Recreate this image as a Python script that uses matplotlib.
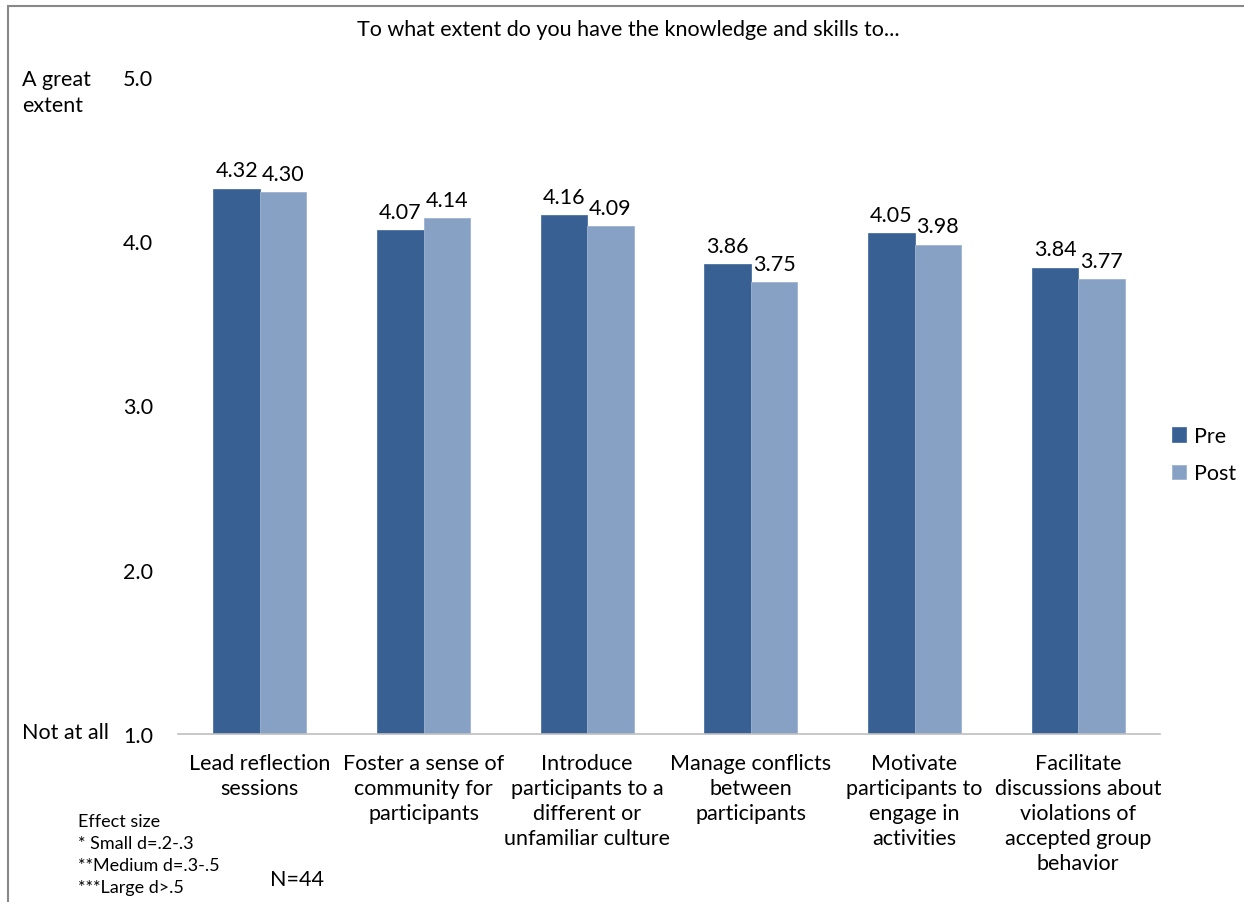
import matplotlib
matplotlib.use("Agg")
import matplotlib.pyplot as plt
import numpy as np
from matplotlib.patches import Rectangle

plt.rcParams["font.family"] = ["Lato", "DejaVu Sans"]

categories = [
    "Lead reflection\nsessions",
    "Foster a sense of\ncommunity for\nparticipants",
    "Introduce\nparticipants to a\ndifferent or\nunfamiliar culture",
    "Manage conflicts\nbetween\nparticipants",
    "Motivate\nparticipants to\nengage in\nactivities",
    "Facilitate\ndiscussions about\nviolations of\naccepted group\nbehavior",
]
pre = [4.32, 4.07, 4.16, 3.86, 4.05, 3.84]
post = [4.30, 4.14, 4.09, 3.75, 3.98, 3.77]
yticks = [1.0, 2.0, 3.0, 4.0, 5.0]

PRE_COLOR = "#386092"
POST_COLOR = "#87a1c5"
FS = 15.5

fig = plt.figure(figsize=(12.44, 9.03), dpi=100)
W, H = 1244, 903
# axes box in pixel terms: x 178..1160, y 78..735 (top-down)
ax = fig.add_axes([178 / W, 1 - 735 / H, (1160 - 178) / W, (735 - 78) / H])

x = np.arange(len(categories))
bw = 0.284
b1 = ax.bar(x - bw / 2, [v - 1 for v in pre], bw, bottom=1, color=PRE_COLOR,
            edgecolor="#4a72a6", lw=0.6, label="Pre")
b2 = ax.bar(x + bw / 2, [v - 1 for v in post], bw, bottom=1, color=POST_COLOR,
            edgecolor="#9db3d2", lw=0.6, label="Post")
for bars, vals in ((b1, pre), (b2, post)):
    for r, v in zip(bars, vals):
        ax.text(r.get_x() + r.get_width() / 2, v + 0.05, f"{v:.2f}",
                ha="center", va="bottom", fontsize=FS)

ax.set_xlim(-0.5, len(categories) - 0.5)
ax.set_ylim(1.0, 5.0)
ax.set_yticks(yticks)
ax.set_yticklabels([f"{t:.1f}" for t in yticks], fontsize=FS)
ax.set_xticks(x)
ax.set_xticklabels(categories, fontsize=FS, linespacing=1.3, va="top")
ax.tick_params(axis="y", length=0, pad=18)
ax.tick_params(axis="x", length=0, pad=14)
for side in ("left", "right", "top"):
    ax.spines[side].set_visible(False)
ax.spines["bottom"].set_color("#bfbfbf")
ax.spines["bottom"].set_linewidth(1.2)

ax.legend(loc="center left", bbox_to_anchor=(0.992, 0.425), frameon=False,
          fontsize=FS, handlelength=0.65, handleheight=0.65, handletextpad=0.4,
          labelspacing=0.8)

fig.text(628 / W, 1 - 30 / H, "To what extent do you have the knowledge and skills to...",
         ha="center", va="center", fontsize=FS)
fig.text(22 / W, 1 - 93 / H, "A great\nextent", ha="left", va="center", fontsize=FS,
         linespacing=1.4)
fig.text(22 / W, 1 - 733 / H, "Not at all", ha="left", va="center", fontsize=FS)
fig.text(78 / W, 1 - 855 / H, "Effect size\n* Small d=.2-.3\n**Medium d=.3-.5\n***Large d>.5",
         ha="left", va="center", fontsize=13, linespacing=1.45)
fig.text(270 / W, 1 - 880 / H, "N=44", ha="left", va="center", fontsize=FS)

# frame: top and left edges only
fig.patches.append(Rectangle((8 / W, -0.1), 1.2, 1 - 6.5 / H + 0.1,
                             transform=fig.transFigure, fill=False,
                             edgecolor="#888888", lw=1.5))

fig.savefig("out.png", dpi=100)
